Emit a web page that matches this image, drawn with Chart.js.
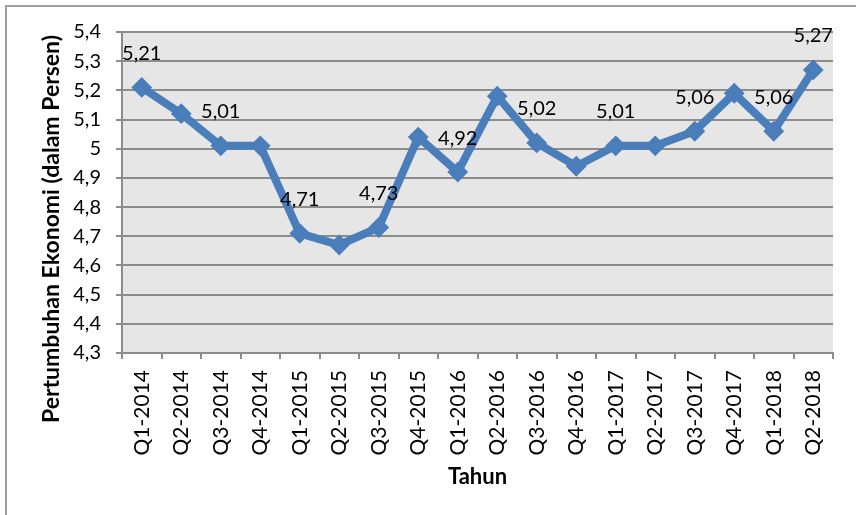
<!DOCTYPE html>
<html>
<head>
<meta charset="utf-8">
<script src="https://cdn.jsdelivr.net/npm/chart.js@4"></script>
<style>
  html, body { margin: 0; padding: 0; background: #fff; }
  #wrap { width: 856px; height: 515px; }
</style>
</head>
<body>
<div id="wrap"><canvas id="growthChart" width="856" height="515"></canvas></div>
<script>
// --- DATA ---
const quarters = [
    'Q1-2014', 'Q2-2014', 'Q3-2014', 'Q4-2014',
    'Q1-2015', 'Q2-2015', 'Q3-2015', 'Q4-2015',
    'Q1-2016', 'Q2-2016', 'Q3-2016', 'Q4-2016',
    'Q1-2017', 'Q2-2017', 'Q3-2017', 'Q4-2017',
    'Q1-2018', 'Q2-2018'
];
const growth = [5.21, 5.12, 5.01, 5.01, 4.71, 4.67, 4.73, 5.04, 4.92, 5.18, 5.02, 4.94, 5.01, 5.01, 5.06, 5.19, 5.06, 5.27];
// only these points carry a value label in the original
const labelledPoints = [0, 2, 4, 6, 8, 10, 12, 14, 16, 17];
const yMin = 4.3, yMax = 5.4, yStep = 0.1;
const yTitle = 'Pertumbuhan Ekonomi (dalam Persen)';
const xTitle = 'Tahun';

const BLUE = '#4a7ebb';
const GRID = '#8c8c8c';
const FONT = 'Lato';

const fmtTick = v => String(Number(v.toFixed(1))).replace('.', ',');
const fmtValue = v => v.toFixed(2).replace('.', ',');

// --- PLUGINS ---
const frameAndBg = {
    id: 'frameAndBg',
    beforeDraw(chart) {
        const { ctx, chartArea: a } = chart;
        ctx.save();
        ctx.fillStyle = '#fff';
        ctx.fillRect(0, 0, chart.width, chart.height);
        ctx.fillStyle = '#e6e6e6';
        ctx.fillRect(a.left, a.top, a.right - a.left, a.bottom - a.top);
        // outer frame (top + left edge only visible)
        ctx.strokeStyle = '#9e9e9e';
        ctx.lineWidth = 2;
        ctx.beginPath();
        ctx.moveTo(6, chart.height);
        ctx.lineTo(6, 6);
        ctx.lineTo(chart.width, 6);
        ctx.stroke();
        ctx.restore();
    }
};

// y title sits a bit lower than the plot centre (centred on axis + labels like Excel)
const yAxisTitle = {
    id: 'yAxisTitle',
    afterDraw(chart) {
        const { ctx } = chart;
        ctx.save();
        ctx.translate(52, 229);
        ctx.rotate(-Math.PI / 2);
        ctx.font = 'bold 23px ' + FONT;
        ctx.fillStyle = '#000';
        ctx.textAlign = 'center';
        ctx.textBaseline = 'middle';
        ctx.fillText(yTitle, 0, 0);
        ctx.restore();
    }
};

const valueLabels = {
    id: 'valueLabels',
    afterDatasetsDraw(chart) {
        const { ctx } = chart;
        const meta = chart.getDatasetMeta(0);
        ctx.save();
        ctx.font = '20px ' + FONT;
        ctx.fillStyle = '#000';
        ctx.textAlign = 'center';
        ctx.textBaseline = 'middle';
        labelledPoints.forEach(i => {
            const p = meta.data[i];
            ctx.fillText(fmtValue(growth[i]), p.x, p.y - 34);
        });
        ctx.restore();
    }
};

// --- CHART ---
Chart.defaults.font.family = FONT;
Chart.defaults.color = '#000';

new Chart(document.getElementById('growthChart').getContext('2d'), {
    type: 'line',
    data: {
        labels: quarters,
        datasets: [{
            data: growth,
            borderColor: BLUE,
            backgroundColor: BLUE,
            borderWidth: 8,
            tension: 0,
            pointStyle: 'rectRot',
            pointRadius: 9,
            pointBorderWidth: 2,
            pointBackgroundColor: BLUE,
            pointBorderColor: BLUE,
            clip: false
        }]
    },
    options: {
        responsive: false,
        animation: false,
        devicePixelRatio: 1,
        layout: { padding: { left: 40, top: 32, right: 23, bottom: 0 } },
        plugins: {
            legend: { display: false },
            tooltip: { enabled: false }
        },
        scales: {
            x: {
                offset: true,
                grid: { offset: true, drawOnChartArea: false, drawTicks: true, tickLength: 6, color: GRID, lineWidth: 2 },
                border: { color: GRID, width: 2 },
                ticks: { minRotation: 90, maxRotation: 90, autoSkip: false, padding: 11, font: { size: 21 } },
                title: { display: true, text: xTitle, font: { size: 22, weight: 'bold' }, padding: { top: 0, bottom: 25 } },
                afterFit(s) { s.height = 162; }
            },
            y: {
                min: yMin,
                max: yMax,
                grid: { color: GRID, lineWidth: 2, tickLength: 6 },
                border: { color: GRID, width: 2 },
                ticks: { stepSize: yStep, padding: 15, font: { size: 20 }, callback: v => fmtTick(v) },
                afterFit(s) { s.width = 82; }
            }
        }
    },
    plugins: [frameAndBg, valueLabels, yAxisTitle]
});
</script>
</body>
</html>
